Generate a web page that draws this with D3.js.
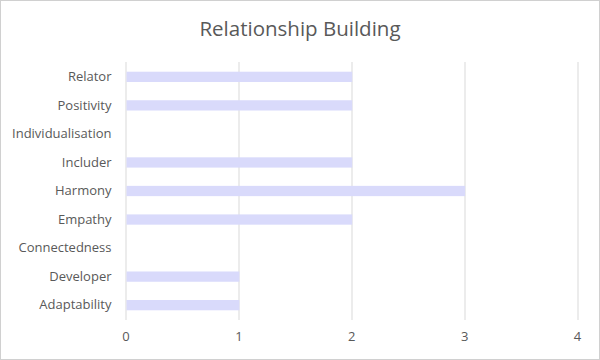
<!DOCTYPE html>
<html>
<head>
<meta charset="utf-8">
<script src="https://cdn.jsdelivr.net/npm/d3@7"></script>
<style>
  html, body { margin: 0; padding: 0; background: #fff; }
  #chart-container { width: 600px; height: 360px; }
  text { font-family: "Open Sans", "Liberation Sans", sans-serif; }
</style>
</head>
<body>
<div id="chart-container"></div>
<script>
// Datos del gráfico
const categories = ["Relator", "Positivity", "Individualisation", "Includer", "Harmony",
                    "Empathy", "Connectedness", "Developer", "Adaptability"];
const values = [2, 2, 0, 2, 3, 2, 0, 1, 1];
const xTicks = [0, 1, 2, 3, 4];
const chartTitle = "Relationship Building";

const W = 600, H = 360;
const margin = { top: 62, right: 23, bottom: 40, left: 125.5 };
const width = W - margin.left - margin.right;
const height = H - margin.top - margin.bottom;

const data = categories.map((c, i) => ({ name: c, value: values[i] }));

const svg = d3.select("#chart-container").append("svg")
    .attr("width", W)
    .attr("height", H);

// Borde exterior
svg.append("rect")
    .attr("x", 0.5).attr("y", 0.5)
    .attr("width", W - 1).attr("height", H - 1)
    .attr("fill", "#fff")
    .attr("stroke", "#d0d0d0");

// Título
svg.append("text")
    .attr("x", W / 2)
    .attr("y", 36)
    .attr("text-anchor", "middle")
    .attr("fill", "#595959")
    .style("font-size", "20.5px")
    .text(chartTitle);

const g = svg.append("g")
    .attr("transform", `translate(${margin.left},${margin.top})`);

// Escalas
const xScale = d3.scaleLinear()
    .domain([0, 4])
    .range([0, width]);

const yScale = d3.scaleBand()
    .domain(categories)
    .range([0, height])
    .paddingInner(0.64)
    .paddingOuter(0.34);

// Líneas de cuadrícula
g.selectAll(".grid")
    .data(xTicks)
    .enter()
    .append("line")
    .attr("class", "grid")
    .attr("x1", d => Math.round(xScale(d)) + 0.5)
    .attr("x2", d => Math.round(xScale(d)) + 0.5)
    .attr("y1", 0)
    .attr("y2", height)
    .attr("stroke", "#d9d9d9")
    .attr("stroke-width", 1);

// Barras
g.selectAll(".bar")
    .data(data)
    .enter()
    .append("rect")
    .attr("class", "bar")
    .attr("x", xScale(0) + 1)
    .attr("y", d => yScale(d.name))
    .attr("height", yScale.bandwidth())
    .attr("width", d => Math.max(0, xScale(d.value) - xScale(0)))
    .attr("fill", "#d9dafb");

// Eje X
const xAxis = g.append("g")
    .attr("transform", `translate(0,${height})`)
    .call(d3.axisBottom(xScale).tickValues(xTicks).tickFormat(d3.format("d")).tickSize(0).tickPadding(12));
xAxis.select(".domain").remove();
xAxis.selectAll("text")
    .attr("fill", "#595959")
    .style("font-size", "13px");

// Eje Y
const yAxis = g.append("g")
    .call(d3.axisLeft(yScale).tickSize(0).tickPadding(14));
yAxis.select(".domain").remove();
yAxis.selectAll("text")
    .attr("fill", "#595959")
    .style("font-size", "13px");
</script>
</body>
</html>
